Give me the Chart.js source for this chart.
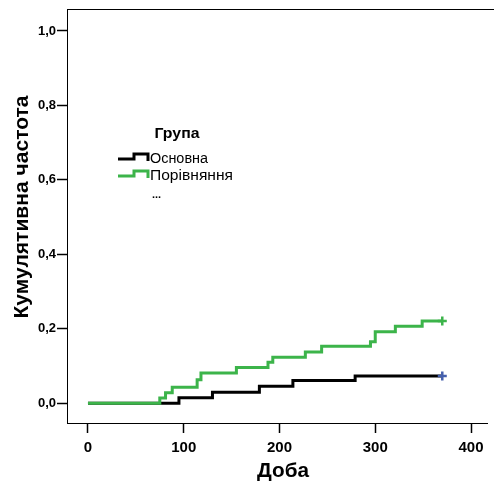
<!DOCTYPE html>
<html>
<head>
<meta charset="utf-8">
<script src="https://cdn.jsdelivr.net/npm/chart.js@4"></script>
<style>
  html, body { margin: 0; padding: 0; background: #fff; overflow: hidden; }
  #wrap { width: 494px; height: 486px; }
</style>
</head>
<body>
<div id="wrap"><canvas id="c" width="494" height="486"></canvas></div>
<script>
// Cumulative incidence by group (step curves), day of follow-up on x
const groupNames = ['Основна', 'Порівняння'];
const mainDays = [0, 95, 130, 179, 214, 279, 370];
const mainCum  = [0, 0.0147, 0.0294, 0.046, 0.061, 0.0735, 0.0735];
const compDays = [0, 75, 81, 88, 114, 118, 155, 188, 193, 227, 244, 295, 300, 321, 349, 370];
const compCum  = [0, 0.0145, 0.0286, 0.043, 0.063, 0.0815, 0.096, 0.110, 0.124, 0.138, 0.153, 0.165, 0.192, 0.207, 0.221, 0.221];
const xTicks = [0, 100, 200, 300, 400];
const yTicks = [0, 0.2, 0.4, 0.6, 0.8, 1.0];
const xTitle = 'Доба';
const yTitle = 'Кумулятивна частота';
const legendTitle = 'Група';

const GREEN = '#3cb44a';
const BLACK = '#000000';
const BLUE = '#4560ad';

const toPoints = (xs, ys) => xs.map((x, i) => ({ x: x, y: ys[i] }));
const lastPoint = (xs, ys) => [{ x: xs[xs.length - 1], y: ys[ys.length - 1] }];

// frame: top border line (right side runs off the canvas)
const framePlugin = {
  id: 'frame',
  afterDraw(chart) {
    const { ctx, chartArea } = chart;
    ctx.save();
    ctx.strokeStyle = '#000';
    ctx.lineWidth = 1;
    ctx.beginPath();
    ctx.moveTo(chartArea.left, Math.round(chartArea.top) + 0.5);
    ctx.lineTo(chart.width, Math.round(chartArea.top) + 0.5);
    ctx.stroke();
    ctx.restore();
  }
};

// draws text fitted to a given width
function fitText(ctx, text, x, y, font, width, align) {
  ctx.save();
  ctx.font = font;
  const w = ctx.measureText(text).width;
  const k = width / w;
  ctx.translate(x, y);
  ctx.scale(k, 1);
  ctx.textAlign = align || 'left';
  ctx.textBaseline = 'middle';
  ctx.fillText(text, 0, 0);
  ctx.restore();
}

const titlesPlugin = {
  id: 'titles',
  afterDraw(chart) {
    const ctx = chart.ctx;
    ctx.fillStyle = '#000';
    // y axis title, rotated
    ctx.save();
    ctx.translate(22, 207);
    ctx.rotate(-Math.PI / 2);
    fitText(ctx, yTitle, 0, 0, 'bold 20px "Liberation Sans", Arial, sans-serif', 223, 'center');
    ctx.restore();
    // x axis title
    fitText(ctx, xTitle, 283, 471, 'bold 20px "Liberation Sans", Arial, sans-serif', 52, 'center');
  }
};

const legendPlugin = {
  id: 'stepLegend',
  afterDraw(chart) {
    const ctx = chart.ctx;
    ctx.fillStyle = '#000';
    fitText(ctx, legendTitle, 177, 134, 'bold 14px "Liberation Sans", Arial, sans-serif', 45, 'center');
    const items = [
      { color: BLACK, y: 159, hi: 154, width: 58 },
      { color: GREEN, y: 176, hi: 171, width: 83 }
    ];
    items.forEach((it, i) => {
      ctx.save();
      ctx.strokeStyle = it.color;
      ctx.lineWidth = 3;
      ctx.lineJoin = 'miter';
      ctx.beginPath();
      ctx.moveTo(118, it.y);
      ctx.lineTo(134, it.y);
      ctx.lineTo(134, it.hi);
      ctx.lineTo(148, it.hi);
      ctx.lineTo(148, it.y + 2);
      ctx.stroke();
      ctx.restore();
      ctx.fillStyle = '#000';
      fitText(ctx, groupNames[i], 150, it.y, '14px "Liberation Sans", Arial, sans-serif', it.width, 'left');
    });
    ctx.fillStyle = '#000';
    ctx.font = 'bold 11px "Liberation Sans", Arial, sans-serif';
    ctx.textAlign = 'left';
    ctx.textBaseline = 'alphabetic';
    ctx.fillText('...', 152, 198);
  }
};

new Chart(document.getElementById('c'), {
  type: 'line',
  data: {
    datasets: [
      {
        label: groupNames[1] + ' +',
        type: 'scatter',
        data: lastPoint(compDays, compCum),
        pointStyle: 'cross',
        pointRadius: 4.5,
        borderColor: GREEN,
        backgroundColor: GREEN,
        borderWidth: 2.5,
        order: 0
      },
      {
        label: groupNames[0] + ' +',
        type: 'scatter',
        data: lastPoint(mainDays, mainCum),
        pointStyle: 'cross',
        pointRadius: 4.5,
        borderColor: BLUE,
        backgroundColor: BLUE,
        borderWidth: 2.5,
        order: 1
      },
      {
        label: groupNames[1],
        data: toPoints(compDays, compCum),
        stepped: 'before',
        borderColor: GREEN,
        borderWidth: 3,
        pointRadius: 0,
        fill: false,
        order: 2
      },
      {
        label: groupNames[0],
        data: toPoints(mainDays, mainCum),
        stepped: 'before',
        borderColor: BLACK,
        borderWidth: 3,
        pointRadius: 0,
        fill: false,
        order: 3
      }
    ]
  },
  options: {
    responsive: false,
    animation: false,
    devicePixelRatio: 1,
    layout: { padding: { top: 9, right: 0, left: 0, bottom: 0 } },
    plugins: { legend: { display: false }, tooltip: { enabled: false } },
    scales: {
      x: {
        type: 'linear',
        min: -21.9,
        max: 416.7,
        afterFit: s => { s.height = 63; },
        afterBuildTicks: s => { s.ticks = xTicks.map(v => ({ value: v })); },
        grid: { display: true, drawOnChartArea: false, drawTicks: true, tickLength: 10, tickColor: '#000', tickWidth: 1.5 },
        border: { display: true, color: '#000', width: 1 },
        ticks: {
          color: '#000',
          padding: 6,
          font: { family: '"Liberation Sans", Arial, sans-serif', size: 15, weight: 'bold' },
          callback: v => String(v)
        }
      },
      y: {
        type: 'linear',
        min: -0.0529,
        max: 1.059,
        afterFit: s => { s.width = 67; },
        afterBuildTicks: s => { s.ticks = yTicks.map(v => ({ value: v })); },
        grid: { display: true, drawOnChartArea: false, drawTicks: true, tickLength: 10, tickColor: '#000', tickWidth: 1.5 },
        border: { display: true, color: '#000', width: 1 },
        ticks: {
          color: '#000',
          padding: 1,
          font: { family: '"Liberation Sans", Arial, sans-serif', size: 13, weight: 'bold' },
          callback: v => v.toFixed(1).replace('.', ',')
        }
      }
    }
  },
  plugins: [framePlugin, titlesPlugin, legendPlugin]
});
</script>
</body>
</html>
